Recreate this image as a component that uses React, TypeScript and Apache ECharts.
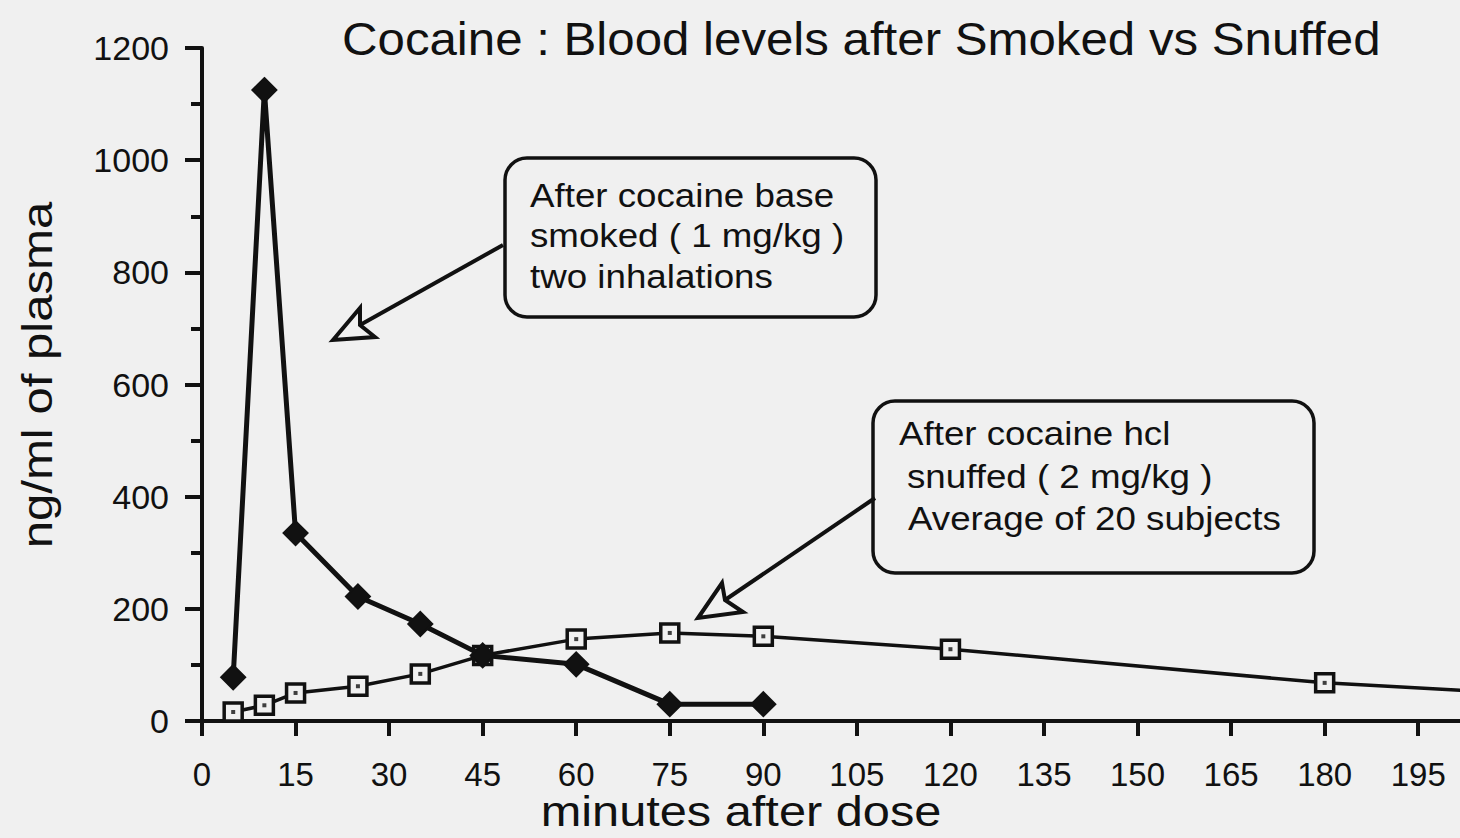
import React, { useEffect, useRef } from "react";
import * as echarts from "echarts";

const smokedMinutes = [5, 10, 15, 25, 35, 45, 60, 75, 90];
const smokedValues = [78, 1125, 335, 222, 173, 117, 101, 30, 30];
const snuffedMinutes = [5, 10, 15, 25, 35, 45, 60, 75, 90, 120, 180, 240];
const snuffedValues = [16, 28, 50, 62, 84, 117, 146, 157, 151, 128, 68, 32];
const titleText = "Cocaine : Blood levels after Smoked vs Snuffed";
const xName = "minutes after dose";
const yName = "ng/ml of plasma";
const box1Lines = ["After cocaine base", "smoked ( 1 mg/kg )", "two inhalations"];
const box2Lines = ["After cocaine hcl", "snuffed ( 2 mg/kg )", "Average of 20 subjects"];

const BG = "#f0f0f0";
const INK = "#111111";
const FONT = '"Liberation Sans", Arial, Helvetica, sans-serif';

function pairs(xs: number[], ys: number[]) {
  return xs.map((x, i) => [x, ys[i]]);
}

function textEl(text: string, x: number, y: number, size: number, scaleX: number, align = "left", rotation = 0) {
  return {
    type: "text",
    x,
    y,
    scaleX,
    rotation,
    style: {
      text,
      fill: INK,
      font: `${size}px ${FONT}`,
      align,
      verticalAlign: "middle",
    },
    z: 10,
  };
}

function arrow(fromX: number, fromY: number, tip: number[], up: number[], notch: number[], low: number[]) {
  return [
    {
      type: "line",
      shape: { x1: fromX, y1: fromY, x2: notch[0], y2: notch[1] },
      style: { stroke: INK, lineWidth: 4 },
      z: 10,
    },
    {
      type: "polygon",
      shape: { points: [tip, up, notch, low] },
      style: { fill: BG, stroke: INK, lineWidth: 4, lineJoin: "miter" },
      z: 11,
    },
  ];
}

export default function App() {
  const ref = useRef<HTMLDivElement>(null);
  useEffect(() => {
    document.body.style.margin = "0";
    const chart = echarts.init(ref.current!, undefined, { renderer: "svg" });
    const snuffed = pairs(snuffedMinutes, snuffedValues);
    const smoked = pairs(smokedMinutes, smokedValues);
    chart.setOption({
      animation: false,
      backgroundColor: BG,
      textStyle: { fontFamily: FONT },
      grid: { left: 202, right: 0, top: 48, bottom: 117, containLabel: false },
      xAxis: {
        type: "value",
        min: 0,
        max: 201.7,
        interval: 15,
        axisLine: { show: true, lineStyle: { color: INK, width: 4 } },
        axisTick: { show: true, length: 15, lineStyle: { color: INK, width: 4 } },
        axisLabel: {
          fontSize: 33,
          color: INK,
          margin: 37,
          showMaxLabel: false,
          fontFamily: FONT,
          formatter: (v: number) => String(v),
        },
        splitLine: { show: false },
      },
      yAxis: {
        type: "value",
        min: 0,
        max: 1200,
        interval: 200,
        axisLine: { show: true, lineStyle: { color: INK, width: 4 } },
        axisTick: { show: true, length: 17, lineStyle: { color: INK, width: 4 } },
        minorTick: { show: true, splitNumber: 2, length: 11, lineStyle: { color: INK, width: 4 } },
        axisLabel: {
          fontSize: 34,
          color: INK,
          margin: 33,
          fontFamily: FONT,
          formatter: (v: number) => String(v),
        },
        splitLine: { show: false },
      },
      series: [
        {
          name: "Snuffed",
          type: "line",
          data: snuffed,
          symbol: "rect",
          symbolSize: 18,
          clip: true,
          lineStyle: { color: INK, width: 3.5 },
          itemStyle: { color: BG, borderColor: INK, borderWidth: 3.5 },
          z: 2,
        },
        {
          name: "Snuffed centre",
          type: "scatter",
          data: snuffed,
          symbol: "rect",
          symbolSize: 4,
          itemStyle: { color: INK },
          z: 3,
        },
        {
          name: "Smoked",
          type: "line",
          data: smoked,
          symbol: "diamond",
          symbolSize: 24,
          clip: true,
          lineStyle: { color: INK, width: 5 },
          itemStyle: { color: INK, borderColor: INK, borderWidth: 2 },
          z: 4,
        },
      ],
      graphic: [
        textEl(titleText, 342, 39, 46, 1.07),
        textEl(xName, 741, 812, 42, 1.16, "center"),
        textEl(yName, 38, 375, 42, 1.17, "center", Math.PI / 2),
        {
          type: "rect",
          shape: { x: 505, y: 158, width: 371, height: 159, r: 22 },
          style: { fill: BG, stroke: INK, lineWidth: 3.5 },
          z: 9,
        },
        textEl(box1Lines[0], 530, 195, 34, 1.08),
        textEl(box1Lines[1], 530, 235, 34, 1.08),
        textEl(box1Lines[2], 530, 276, 34, 1.08),
        {
          type: "rect",
          shape: { x: 873, y: 401, width: 441, height: 172, r: 22 },
          style: { fill: BG, stroke: INK, lineWidth: 3.5 },
          z: 9,
        },
        textEl(box2Lines[0], 899, 433, 34, 1.08),
        textEl(box2Lines[1], 907, 476, 34, 1.08),
        textEl(box2Lines[2], 908, 518, 34, 1.08),
        ...arrow(503, 245, [333, 340], [360, 308], [360, 325], [375, 337]),
        ...arrow(875, 498, [698, 618], [722, 583], [725, 600], [743, 612]),
      ],
    });
    return () => chart.dispose();
  }, []);
  return (
    <div
      ref={ref}
      style={{ position: "fixed", left: 0, top: 0, width: 1460, height: 838 }}
    />
  );
}
